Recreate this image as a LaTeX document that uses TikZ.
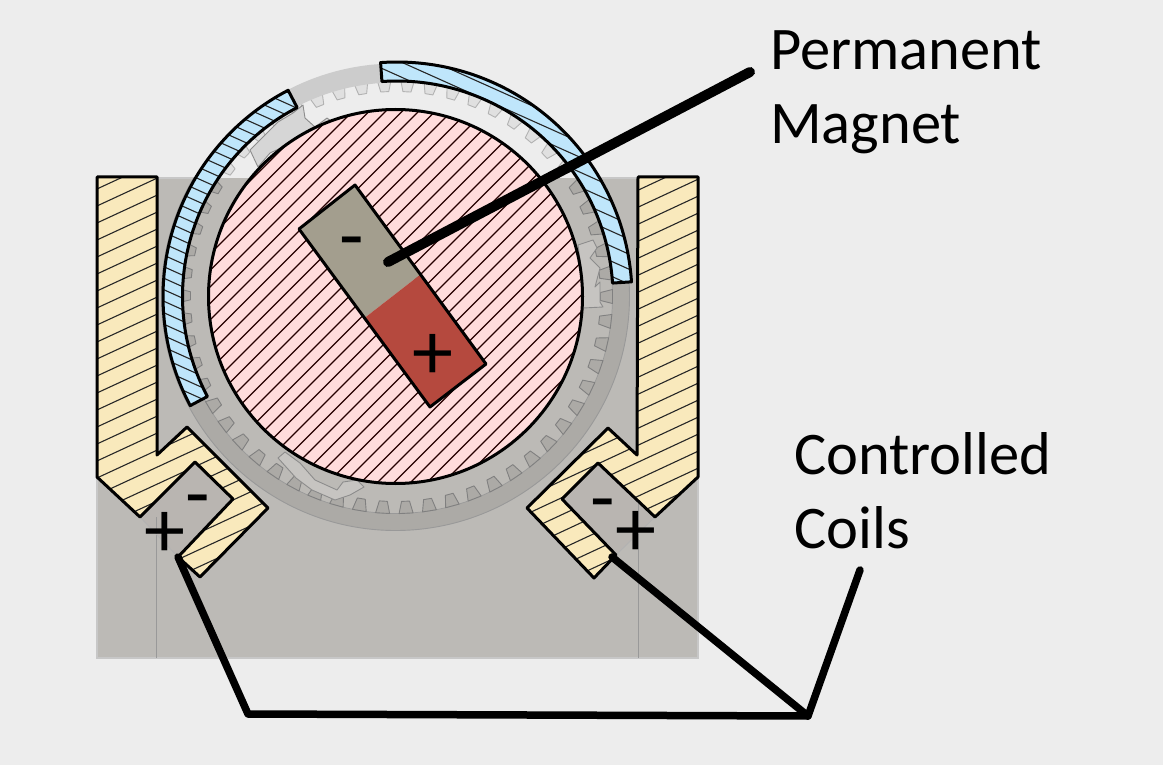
\documentclass[tikz,border=0pt]{standalone}
\usepackage{fontspec}
\setmainfont{Carlito}
\definecolor{bgc}{HTML}{EDEDED}
\definecolor{basec}{HTML}{BCBAB6}
\definecolor{ringc}{HTML}{ACAAA6}
\definecolor{yel}{HTML}{F9E9BC}
\definecolor{pinkc}{HTML}{FFDCDC}
\definecolor{bluec}{HTML}{BFE6FB}
\definecolor{maggray}{HTML}{A39E8E}
\definecolor{magred}{HTML}{B5493E}
\definecolor{pocketc}{HTML}{B9B5B1}
\tikzset{
 outl/.style={draw=black,line width=3pt,line join=round},
 hatchl/.style={draw=black!85,line width=1.1pt},
 phatch/.style={draw=black!75!red!60!black,line width=1.1pt},
 leader/.style={draw=black,line width=7.5pt,line join=round,line cap=round},
 lbl/.style={align=left,anchor=north west,inner sep=0pt,font=\fontsize{60.5}{74}\selectfont},
 sign/.style={inner sep=0pt,font=\fontsize{82}{82}\selectfont},
 smallsign/.style={inner sep=0pt,font=\fontsize{80}{80}\selectfont},
 gearl/.style={draw=black!45,line width=.9pt,line join=round},
}
\newcommand{\leftyel}{(97,177)--(157,177)--(157,455)--(187,427)--(268,508)--(200,577)--(178,557)--(233,499)--(195,462)--(140,517)--(97,477)--cycle}
\newcommand{\rightyel}{(638,177)--(698,177)--(698,477)--(655,517)--(598,463)--(562,499)--(616,555)--(594,578)--(527,508)--(608,428)--(637,455)--cycle}
\newcommand{\blueL}{plot[domain=152:242.5,samples=70] ({395.5+232.5*cos(\x)},{296.5+232.5*sin(\x)}) -- plot[domain=242.5:152,samples=70] ({395.5+213*cos(\x)},{296.5+213*sin(\x)}) -- cycle}
\newcommand{\blueR}{plot[domain=266:356.3,samples=70] ({397+235*cos(\x)},{297+235*sin(\x)}) -- plot[domain=356.3:266,samples=70] ({397+216*cos(\x)},{297+216*sin(\x)}) -- cycle}
\newcommand{\teeth}[2]{\foreach \a in {0,6.2,...,359}{%
  \begin{scope}[shift={(395.5,296.5)},rotate=\a]
  \filldraw[draw=#2,line width=.9pt,line join=round,fill=#1] (205,-4)--(217,-7)--(217,7)--(205,4)--cycle;
  \end{scope}}}
\begin{document}
\begin{tikzpicture}[x=1pt,y=-1pt]
\useasboundingbox (0,0) rectangle (1163,765);
\fill[bgc] (0,0) rectangle (1163,765);
% base
\fill[basec] (97,178) rectangle (698,658);
\draw[black!22,line width=1.4pt] (97,178) rectangle (698,658);
% ring and body, lower part
\coordinate (c) at (395.5,296.5);
\begin{scope}
 \clip (97,178) rectangle (698,658);
 \fill[ringc] (c) circle (234);
 \fill[basec] (c) circle (217);
 \draw[black!40,line width=.9pt] (c) circle (234);
 \draw[black!40,line width=.7pt] (c) circle (217);
 \teeth{ringc}{black!50}
\end{scope}
% upper part above the base
\begin{scope}
 \clip (120,40) rectangle (680,178);
 \fill[bgc] (c) circle (234);
 \teeth{black!12}{black!30}
\end{scope}
% grey band visible between the two blue arcs
\fill[black!20] plot[domain=240:268,samples=30] ({395.5+233*cos(\x)},{296.5+233*sin(\x)}) -- plot[domain=268:240,samples=30] ({395.5+214*cos(\x)},{296.5+214*sin(\x)}) -- cycle;
% pinions
\filldraw[gearl,fill=black!16] (278,122)--(293,113)--(303,105)--(305,118)--(315,127)--(327,118)--(332,122)--(315,132)--(297,138)--(283,147)--(270,153)--(258,167)--(250,150)--(263,137)--cycle;
\filldraw[gearl,fill=basec!85!white] (278,458)--(285,452)--(300,463)--(315,480)--(337,490)--(343,482)--(357,480)--(364,487)--(350,495)--(335,500)--(312,490)--(296,478)--cycle;
\filldraw[gearl,fill=basec!85!white] (578,245)--(593,240)--(597,248)--(590,258)--(600,268)--(595,287)--(600,282)--(600,302)--(603,307)--(583,308)--(582,275)--cycle;
% pink rotor
\begin{scope}
 \clip (c) circle (187);
 \fill[pinkc] (c) circle (187);
 \foreach \k in {-30,...,60}{\draw[phatch] ({195+\k*16.5},500)--({195+\k*16.5+430},70);}
\end{scope}
\draw[outl] (c) circle (187);
% magnet
\fill[maggray] (355,185)--(299,229)--(364.5,318)--(420.5,274.5)--cycle;
\fill[magred] (364.5,318)--(420.5,274.5)--(486,364)--(430,407)--cycle;
\draw[outl] (355,185)--(299,229)--(430,407)--(486,364)--cycle;
% yellow poles
\fill[pocketc] (195,462)--(233,499)--(178,557)--(140,517)--cycle;
\fill[pocketc] (598,463)--(562,499)--(616,555)--(655,517)--cycle;
\draw[black!40,line width=1pt] (156,517)--(156,658) (638,500)--(638,658);
\draw[black!30,line width=.8pt] (140,517)--(178,557) (655,517)--(616,555);
\begin{scope}
 \clip \leftyel;
 \fill[yel] (0,0) rectangle (800,700);
 \foreach \k in {-25,...,25}{\draw[hatchl] (90,{410+\k*17+3.2})--(300,{410+\k*17-94});}
\end{scope}
\begin{scope}
 \clip \rightyel;
 \fill[yel] (400,0) rectangle (800,700);
 \foreach \k in {-5,...,40}{\draw[hatchl] (500,{190+\k*17+64.5})--(720,{190+\k*17-38});}
\end{scope}
\draw[outl] \leftyel;
\draw[outl] \rightyel;
% blue arcs
\begin{scope}
 \clip \blueL;
 \fill[bluec] (100,50) rectangle (700,450);
 \foreach \k in {-10,...,50}{\draw[hatchl] (100,{100+\k*11.5})--(400,{100+\k*11.5+135});}
\end{scope}
\draw[outl] \blueL;
\begin{scope}
 \clip \blueR;
 \fill[bluec] (100,50) rectangle (700,450);
 \foreach \k in {-30,...,10}{\draw[hatchl] (381,{68+\k*15})--(700,{68+\k*15+143});}
\end{scope}
\draw[outl] \blueR;
% labels
\node[lbl] (pm) at (770,30) {Permanent\\Magnet};
\node[lbl] (cc) at (794,432) {Controlled\\Coils};
\node[sign] (p1) at (165,535) {+};
\node[smallsign] (m1) at (198,508) {-};
\node[sign] (p2) at (636,534) {+};
\node[smallsign] (m2) at (603,512) {-};
\node[sign] (p3) at (433,357) {+};
\node[smallsign] (m3) at (352,250) {-};
% leaders
\coordinate (ma) at (388,262);
\coordinate (mb) at (750,72);
\coordinate (cl) at (178,557);
\coordinate (cr) at (612,557);
\coordinate (k1) at (248,714);
\coordinate (k2) at (808,716);
\coordinate (ce) at (860,570);
\draw[leader,line width=10pt] (ma)--(mb);
\draw[leader] (cl)--(k1)--(k2)--(ce);
\draw[leader] (cr)--(k2);
\end{tikzpicture}
\end{document}
